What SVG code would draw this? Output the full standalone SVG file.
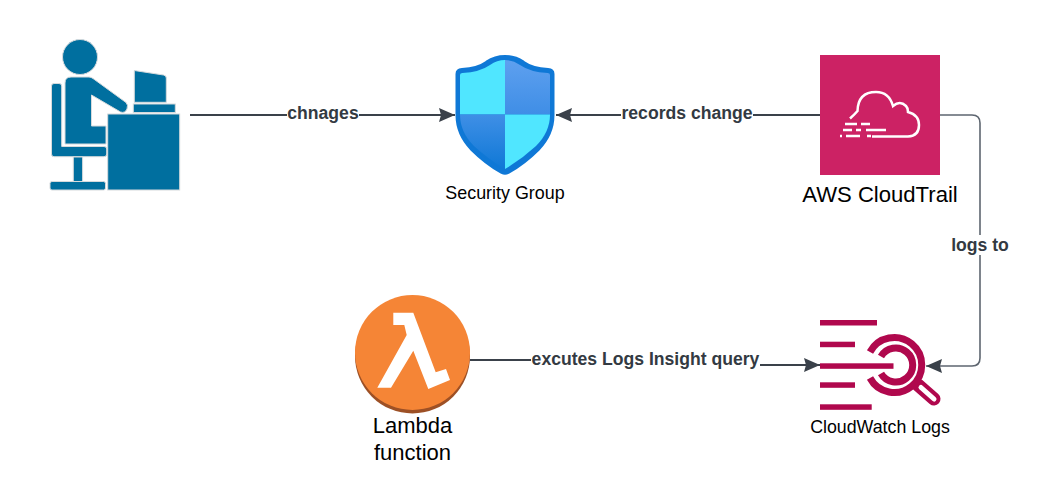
<svg xmlns="http://www.w3.org/2000/svg" width="1049" height="480" viewBox="0 0 1049 480">
<defs>
<linearGradient id="sq1" x1="0" y1="0" x2="0" y2="1"><stop offset="0" stop-color="#5ea0ef"/><stop offset="1" stop-color="#3f8ee6"/></linearGradient>
<linearGradient id="sq2" x1="0" y1="0" x2="0" y2="1"><stop offset="0" stop-color="#3f8fe6"/><stop offset="1" stop-color="#0f78d6"/></linearGradient>
<marker id="arrow" viewBox="0 0 16 14" markerWidth="16" markerHeight="14" refX="16" refY="7" orient="auto" markerUnits="userSpaceOnUse"><path d="M0 0L16 7L0 14L2 7Z" fill="#3a414a"/></marker>
</defs>
<style>
.conn{fill:none;stroke:#3a414a;stroke-width:2}
.conn2{fill:none;stroke:#5e6670;stroke-width:1.6}
.lab{font:bold 17.6px "Liberation Sans",Arial,sans-serif;fill:#333a42;text-anchor:middle}
.cap{font-family:"Liberation Sans",Arial,sans-serif;fill:#000;text-anchor:middle}
.p{fill:#006f9f;stroke:#d6dadc;stroke-width:1}
.bar{fill:#b0084d}
.ring{fill:none;stroke:#b0084d;stroke-width:7}
.ct{fill:none;stroke:#fff;stroke-width:2.500}
</style>
<rect width="1049" height="480" fill="#fff"/>
<g id="user">
<circle class="p" cx="80" cy="57" r="17.500"/>
<path class="p" d="M71 77H89Q91 77 93 78.500L126 102.500Q128.500 105 127 109Q125 113.500 120.500 112L91.500 95V126H106V144H65V83Q65 77 71 77Z"/>
<path class="p" d="M54 83.500H59Q61.700 83.500 61.700 86V146.500H104Q106.700 146.500 106.700 149V154Q106.700 156.700 104 156.700H54Q51.500 156.700 51.500 154V86Q51.500 83.500 54 83.500Z"/>
<rect class="p" x="73.300" y="157" width="9.300" height="25"/>
<rect class="p" x="50" y="181.500" width="55.500" height="8.500" rx="2"/>
<rect class="p" x="107.700" y="114" width="72" height="76"/>
<rect class="p" x="133.300" y="104" width="42" height="8.500"/>
<path class="p" d="M134.300 70.500L163.500 75Q166.300 75.500 166.300 78V102.300H134.300Z"/>
</g>
<g id="security-group">
<path d="M505 57Q495 57 487 62.500Q478 69 462 70Q457.500 70.300 457.500 74V115Q457.500 134 472 149Q486 163 502 172Q505 173.500 508 172Q524 163 538 149Q552.500 134 552.500 115V74Q552.500 70.300 548 70Q532 69 523 62.500Q515 57 505 57Z" fill="#0f78d6" stroke="#0f78d6" stroke-width="4"/>
<path d="M505 60V114.500H460V75Q460 73 462.500 73Q480 72 490 65Q497 60 505 60Z" fill="#50e6ff"/>
<path d="M505 60V114.500H550V75Q550 73 547.500 73Q530 72 520 65Q513 60 505 60Z" fill="url(#sq1)"/>
<path d="M460 114.500H505V169Q488 159 474 146Q460 132 460 114.500Z" fill="url(#sq2)"/>
<path d="M550 114.500H505V169Q522 159 536 146Q550 132 550 114.500Z" fill="#50e6ff"/>
<text class="cap" x="505" y="198.500" font-size="17.900">Security Group</text>
</g>
<g id="cloudtrail">
<rect x="820" y="55" width="120" height="120" fill="#cc2264"/>
<path class="ct" d="M850 118.500Q855 114 857.500 111Q858 92 876 92Q889 92 893 106Q900 100 906 106Q908 108 908 112Q919 115 919 125Q919 136 908 136.500H872"/>
<path class="ct" d="M845 124H857M861 124H870M843 130H852M856 130H861M866 130H886M840 136H842M846 136H860M867 136H871"/>
<text class="cap" x="880" y="202" font-size="22.100">AWS CloudTrail</text>
</g>
<g id="cloudwatch-logs">
<rect class="bar" x="820" y="320" width="57" height="5.500"/>
<rect class="bar" x="820" y="341.700" width="35" height="5.500"/>
<rect class="bar" x="820" y="363.300" width="73.500" height="5.500"/>
<rect class="bar" x="820" y="382.300" width="35" height="5.500"/>
<rect class="bar" x="820" y="404.300" width="51.700" height="5.500"/>
<path class="ring" d="M870 352A27.500 27.500 0 1 1 870 378"/>
<path class="ring" d="M881 356.500A17 17 0 1 1 881 373.500"/>
<path d="M918 385L934 399" fill="none" stroke="#b0084d" stroke-width="13" stroke-linecap="round"/>
<path d="M921 387.500L934 399" fill="none" stroke="#fff" stroke-width="5" stroke-linecap="round"/>
<text class="cap" x="880" y="433" font-size="17.800">CloudWatch Logs</text>
</g>
<g id="lambda">
<circle cx="412.500" cy="356" r="57.500" fill="#9d5025"/>
<circle cx="412.500" cy="352.500" r="57.500" fill="#f58536"/>
<path d="M393.300 312.700H413.300L435.700 372.300L446 369L450 380L428.300 389L413.300 350.700L391 387.700H377.300L406.700 335L404.300 325H393.300Z" fill="#fff"/>
<text class="cap" x="412.500" y="433" font-size="22">Lambda</text>
<text class="cap" x="412.500" y="460" font-size="22">function</text>
</g>
<g id="connectors">
<path class="conn" d="M190 115H455" marker-end="url(#arrow)"/>
<path class="conn" d="M820 115H556" marker-end="url(#arrow)"/>
<path class="conn2" d="M940 115H972Q980 115 980 123V358Q980 366 972 366H926" marker-end="url(#arrow)"/>
<path class="conn" d="M470 360H645Q760 360 760 365H820" marker-end="url(#arrow)"/>
<rect x="287" y="104" width="72" height="20" fill="#fff"/>
<text class="lab" x="323" y="119">chnages</text>
<rect x="621" y="104" width="132" height="20" fill="#fff"/>
<text class="lab" x="687" y="119">records change</text>
<rect x="951" y="235" width="58" height="20" fill="#fff"/>
<text class="lab" x="980" y="250.500">logs to</text>
<rect x="531" y="350" width="229" height="20" fill="#fff"/>
<text class="lab" x="645.500" y="365">excutes Logs Insight query</text>
</g>
</svg>
